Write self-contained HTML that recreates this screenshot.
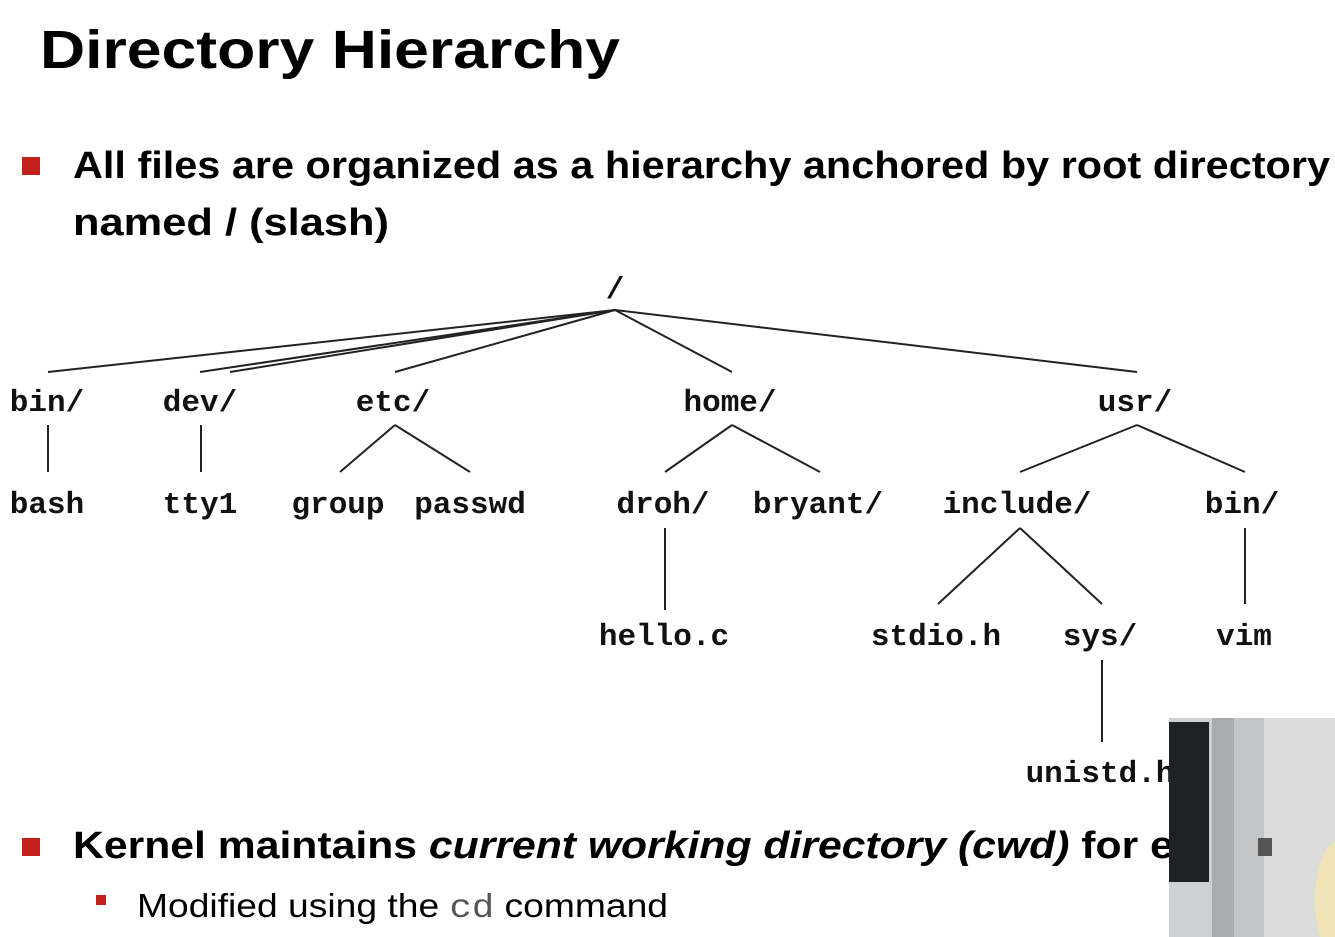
<!DOCTYPE html>
<html><head><meta charset="utf-8"><style>
html,body{margin:0;padding:0;background:#fff;width:1335px;height:937px;overflow:hidden}
svg{display:block}
.m{font-family:"Liberation Mono",monospace;font-weight:bold;font-size:31px;fill:#111}
.s{font-family:"Liberation Sans",sans-serif;fill:#000}
</style></head><body>
<svg width="1335" height="937" viewBox="0 0 1335 937">
<text class="s" x="40" y="68" font-size="54" font-weight="bold" textLength="580" lengthAdjust="spacingAndGlyphs">Directory Hierarchy</text>
<rect x="22" y="157" width="18" height="18" fill="#c0221b"/>
<text class="s" x="73" y="178" font-size="38" font-weight="bold" textLength="1257" lengthAdjust="spacingAndGlyphs">All files are organized as a hierarchy anchored by root directory</text>
<text class="s" x="73" y="235" font-size="38" font-weight="bold" textLength="316" lengthAdjust="spacingAndGlyphs">named / (slash)</text>
<g stroke="#222" stroke-width="2" fill="none">
<line x1="615" y1="310" x2="48" y2="372"/>
<line x1="615" y1="310" x2="200" y2="372"/>
<line x1="615" y1="310" x2="230" y2="372"/>
<line x1="615" y1="310" x2="395" y2="372"/>
<line x1="615" y1="310" x2="732" y2="372"/>
<line x1="615" y1="310" x2="1137" y2="372"/>
<line x1="48" y1="425" x2="48" y2="472"/>
<line x1="201" y1="425" x2="201" y2="472"/>
<line x1="395" y1="425" x2="340" y2="472"/>
<line x1="395" y1="425" x2="470" y2="472"/>
<line x1="732" y1="425" x2="665" y2="472"/>
<line x1="732" y1="425" x2="820" y2="472"/>
<line x1="1137" y1="425" x2="1020" y2="472"/>
<line x1="1137" y1="425" x2="1245" y2="472"/>
<line x1="665" y1="528" x2="665" y2="610"/>
<line x1="1020" y1="528" x2="938" y2="604"/>
<line x1="1020" y1="528" x2="1102" y2="604"/>
<line x1="1245" y1="528" x2="1245" y2="604"/>
<line x1="1102" y1="660" x2="1102" y2="742"/>
</g>
<g class="m" text-anchor="middle">
<text x="615" y="298">/</text>
<text x="47" y="411">bin/</text>
<text x="200" y="411">dev/</text>
<text x="393" y="411">etc/</text>
<text x="730" y="411">home/</text>
<text x="1135" y="411">usr/</text>
<text x="47" y="513">bash</text>
<text x="200" y="513">tty1</text>
<text x="338" y="513">group</text>
<text x="470" y="513">passwd</text>
<text x="663" y="513">droh/</text>
<text x="818" y="513">bryant/</text>
<text x="1017" y="513">include/</text>
<text x="1242" y="513">bin/</text>
<text x="664" y="645">hello.c</text>
<text x="936" y="645">stdio.h</text>
<text x="1100" y="645">sys/</text>
<text x="1244" y="645">vim</text>
<text x="1100" y="782">unistd.h</text>
</g>
<rect x="22" y="838" width="18" height="18" fill="#c0221b"/>
<text class="s" x="73" y="858" font-size="38" font-weight="bold" textLength="1350" lengthAdjust="spacingAndGlyphs">Kernel maintains <tspan font-style="italic">current working directory (cwd)</tspan> for each process</text>
<rect x="96" y="895" width="10" height="10" fill="#c0221b"/>
<text class="s" x="137" y="917" font-size="33" textLength="531" lengthAdjust="spacingAndGlyphs">Modified using the <tspan font-family="Liberation Mono,monospace" fill="#555">cd</tspan> command</text>
<rect x="1169" y="718" width="166" height="219" fill="#cfd0d2"/>
<rect x="1169" y="722" width="40" height="160" fill="#1e2223"/>
<rect x="1212" y="718" width="22" height="219" fill="#a9abad"/>
<rect x="1234" y="718" width="30" height="219" fill="#c4c5c7"/>
<rect x="1264" y="718" width="71" height="219" fill="#dcdcdc"/>
<rect x="1258" y="838" width="14" height="18" fill="#555"/>
<ellipse cx="1340" cy="900" rx="25" ry="60" fill="#efe4b8"/>
</svg>
</body></html>
